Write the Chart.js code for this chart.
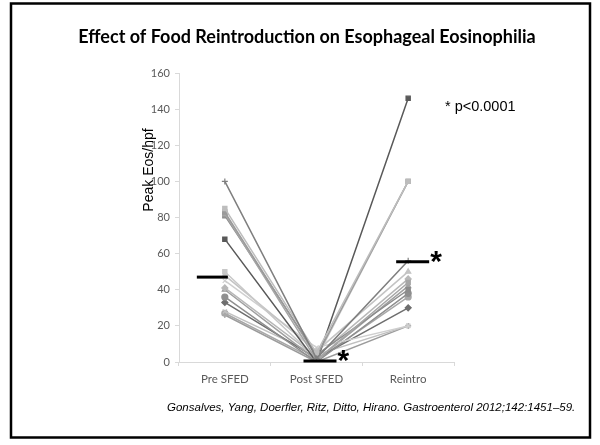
<!DOCTYPE html>
<html>
<head>
<meta charset="utf-8">
<script src="https://cdn.jsdelivr.net/npm/chart.js@4.4.1/dist/chart.umd.min.js"></script>
<style>
  html, body { margin: 0; padding: 0; background: #fff; }
  #wrap { width: 600px; height: 445px; position: relative; }
</style>
</head>
<body>
<div id="wrap"><canvas id="c" width="600" height="445"></canvas></div>
<script>
const categories = ['Pre SFED', 'Post SFED', 'Reintro'];
const yTicks = [0, 20, 40, 60, 80, 100, 120, 140, 160];

// one patient per row: [Pre SFED, Post SFED, Reintro]
const patients = [
  [100, 2, 56],
  [85, 5, 100],
  [83, 3, 100],
  [82, 1, 44],
  [81, 4, 40],
  [68, 0, 146],
  [50, 2, 100],
  [48, 6, 50],
  [45, 8, 20],
  [41, 3, 46],
  [40, 1, 42],
  [36, 0, 38],
  [33, 2, 30],
  [28, 4, 20],
  [27, 1, 36],
  [26, 0, 20]
];
const lineColors = ['#7f7f7f', '#bdbdbd', '#9a9a9a', '#a6a6a6', '#8c8c8c', '#595959', '#c8c8c8', '#c4c4c4',
  '#cfcfcf', '#b8b8b8', '#a0a0a0', '#8f8f8f', '#6e6e6e', '#c0c0c0', '#a8a8a8', '#9c9c9c'];
const markers = ['cross', 'rect', 'rect', 'rect', 'rect', 'rect', 'rect', 'triangle',
  'crossRot', 'rectRot', 'triangle', 'circle', 'rectRot', 'crossRot', 'circle', 'cross'];

const means = [47, 0.5, 55.5];
const starCats = [1, 2];

const datasets = patients.map((p, i) => ({
  data: p,
  borderColor: lineColors[i],
  backgroundColor: lineColors[i],
  borderWidth: 1.5,
  pointStyle: markers[i],
  pointRadius: 3,
  pointBorderWidth: 1.2,
  tension: 0
}));

const extras = {
  id: 'extras',
  afterDraw(chart){
    const ctx = chart.ctx, x = chart.scales.x, y = chart.scales.y;
    ctx.save();
    // frame
    ctx.strokeStyle = '#000'; ctx.lineWidth = 2.5;
    ctx.strokeRect(11, 3.5, 579, 434);
    // title
    ctx.fillStyle = '#000';
    ctx.textAlign = 'center'; ctx.textBaseline = 'middle';
    ctx.font = 'bold 18px Lato, "Open Sans", sans-serif';
    ctx.fillText('Effect of Food Reintroduction on Esophageal Eosinophilia', 307, 37);
    // y title
    ctx.save();
    ctx.translate(149, 170); ctx.rotate(-Math.PI/2);
    ctx.font = '14px "Liberation Sans", Arial, sans-serif';
    ctx.fillText('Peak Eos/hpf', 0, 0);
    ctx.restore();
    // mean bars
    const offs = [[-28, 3], [-13, 20], [-12, 21]];
    ctx.strokeStyle = '#000'; ctx.lineWidth = 3;
    means.forEach((m, i) => {
      const cx = x.getPixelForValue(i), py = y.getPixelForValue(m);
      ctx.beginPath(); ctx.moveTo(cx + offs[i][0], py); ctx.lineTo(cx + offs[i][1], py); ctx.stroke();
    });
    // stars
    ctx.font = 'bold 30px "Liberation Sans", Arial, sans-serif';
    ctx.textAlign = 'left';
    starCats.forEach(i => {
      const cx = x.getPixelForValue(i) + offs[i][1] + 1, py = y.getPixelForValue(means[i]);
      ctx.fillText('*', cx, py + 1);
    });
    ctx.font = '14.5px "Liberation Sans", Arial, sans-serif';
    ctx.fillText('* p<0.0001', 445, 107);
    ctx.font = 'italic 11.5px "Liberation Sans", Arial, sans-serif';
    ctx.fillText('Gonsalves, Yang, Doerfler, Ritz, Ditto, Hirano. Gastroenterol 2012;142:1451\u201359.', 167, 408);
    ctx.restore();
  }
};

new Chart(document.getElementById('c'), {
  type: 'line',
  data: { labels: categories, datasets },
  options: {
    responsive: false,
    animation: false,
    layout: { padding: { left: 0, right: 146, top: 73, bottom: 0 } },
    plugins: { legend: { display: false }, tooltip: { enabled: false } },
    scales: {
      x: {
        offset: true,
        afterFit: s => { s.height = 83; },
        grid: { offset: true, drawOnChartArea: false, tickLength: 4, color: '#d9d9d9' },
        border: { color: '#d9d9d9' },
        ticks: { color: '#595959', font: { size: 11.5, family: 'Lato, sans-serif' }, padding: 6 }
      },
      y: {
        min: 0, max: 160,
        afterFit: s => { s.width = 179; },
        afterBuildTicks: s => { s.ticks = yTicks.map(v => ({ value: v })); },
        grid: { drawOnChartArea: false, tickLength: 4, color: '#d9d9d9' },
        border: { color: '#d9d9d9' },
        ticks: { color: '#595959', font: { size: 11, family: 'Lato, sans-serif' }, padding: 5 }
      }
    }
  },
  plugins: [extras]
});
</script>
</body>
</html>
